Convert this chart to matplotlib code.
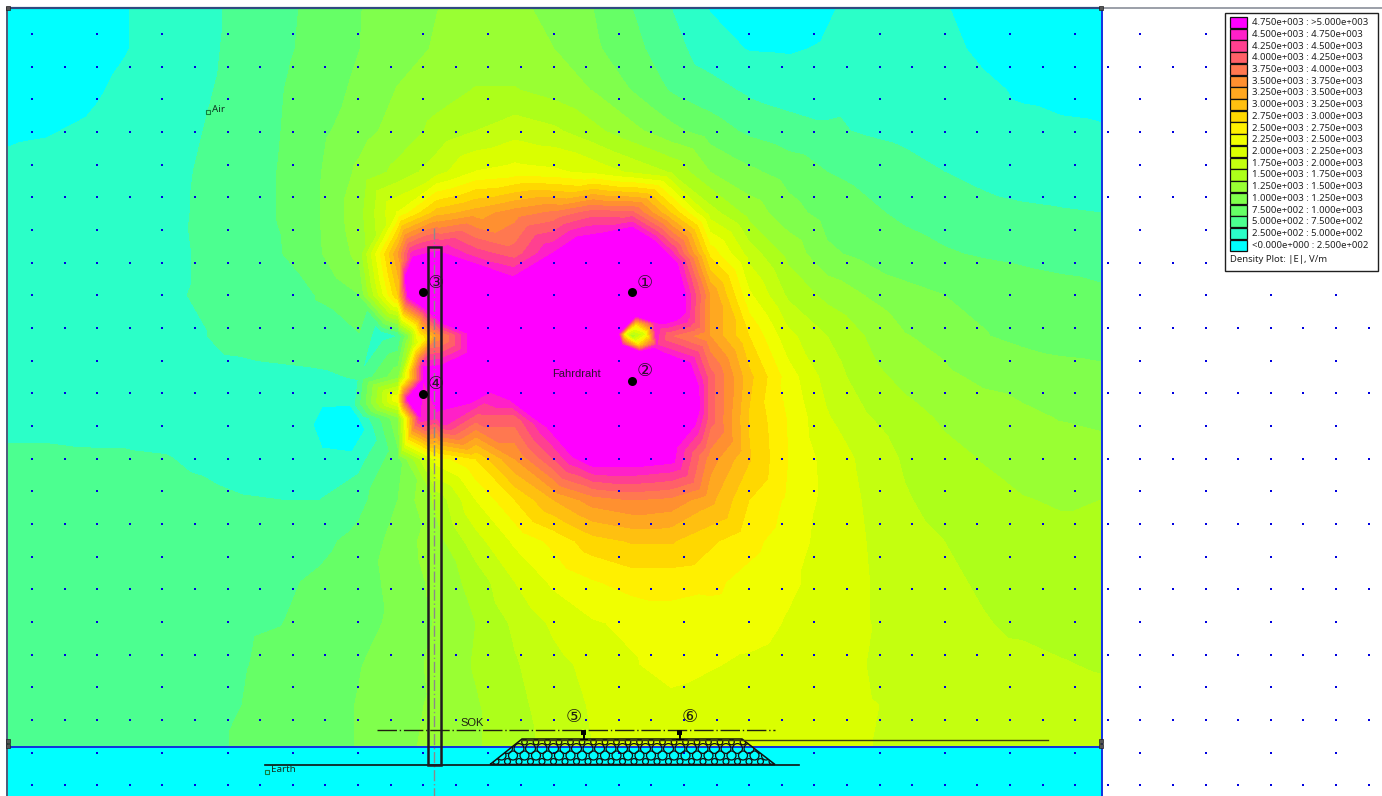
import numpy as np
import matplotlib

matplotlib.use("Agg")
import matplotlib.pyplot as plt
from matplotlib.path import Path
from matplotlib.patches import PathPatch, Rectangle

plt.rcParams["font.family"] = ["Noto Sans", "DejaVu Sans"]

W, H = 1382, 796

# |E|, in steps of 250 V/m, on a coarse grid of screen positions
grid_x = [8, 47, 86, 125, 164, 203, 242, 281, 320, 359, 398, 437, 476, 515, 554,
          593, 632, 671, 710, 749, 788, 827, 866, 905, 944, 983, 1022, 1061, 1101]
grid_y = [8, 49, 90, 131, 172, 213, 254, 295, 336, 377, 418, 459, 500, 541, 582, 623, 664, 705, 746]
field = [
    [.5, .5, .5, .95, 1.4, 1.8, 2.2, 2.75, 3.3, 3.95, 4.5, 4.98, 5.4, 5.3, 4.6, 4.0, 3.0, 2.0, .95, .5, .5, .9, 1.3, 1.3, 1.05, .7, .5, .4, .3],
    [.5, .5, .6, .95, 1.4, 1.8, 2.25, 2.8, 3.35, 3.98, 4.6, 5.1, 5.5, 5.5, 5.0, 4.2, 3.3, 2.4, 1.4, .95, .9, 1.1, 1.4, 1.4, 1.2, .85, .6, .5, .4],
    [.5, .6, .8, 1.2, 1.5, 1.85, 2.4, 2.95, 3.55, 4.2, 5.05, 5.6, 6.05, 6.05, 5.6, 4.95, 3.95, 2.9, 2.4, 1.8, 1.55, 1.55, 1.7, 1.7, 1.5, 1.15, .9, .75, .6],
    [.9, .95, 1.1, 1.45, 1.7, 2.0, 2.5, 3.0, 3.75, 4.6, 5.4, 6.3, 7.0, 7.6, 7.2, 6.3, 5.3, 4.3, 3.5, 2.8, 2.4, 2.15, 1.9, 1.7, 1.5, 1.3, 1.2, 1.15, 1.1],
    [1.15, 1.25, 1.35, 1.5, 1.7, 2.1, 2.6, 3.05, 3.95, 5.2, 6.3, 7.6, 9.05, 9.4, 9.2, 8.7, 7.8, 6.9, 5.0, 4.2, 3.6, 3.0, 2.7, 2.4, 2.0, 1.7, 1.45, 1.3, 1.25],
    [1.3, 1.35, 1.4, 1.5, 1.7, 2.15, 2.6, 3.05, 4.0, 5.6, 9.1, 12.5, 13.5, 14.5, 15.2, 16.5, 16.3, 12.0, 7.5, 5.6, 4.4, 3.6, 3.2, 2.8, 2.55, 2.35, 2.2, 2.1, 2.0],
    [1.35, 1.4, 1.45, 1.55, 1.75, 2.1, 2.65, 2.95, 3.9, 5.3, 14.0, 19.5, 17.5, 16.5, 19.0, 24, 24, 18.5, 10.7, 7.6, 5.7, 4.2, 3.7, 3.4, 3.1, 2.9, 2.75, 2.6, 2.5],
    [1.4, 1.45, 1.5, 1.6, 1.85, 2.1, 2.35, 2.65, 3.05, 3.97, 12.0, 24, 24, 24, 24, 24, 24, 22, 14, 9.2, 6.8, 5.7, 4.95, 4.3, 4.0, 3.8, 3.6, 3.4, 3.2],
    [1.3, 1.35, 1.4, 1.45, 1.6, 1.95, 2.4, 2.6, 2.75, 2.9, 2.0, 14, 20.5, 24, 24, 24, 6, 16, 14, 11, 8.3, 7.0, 5.95, 5.05, 4.7, 4.05, 3.75, 3.5, 3.3],
    [1.35, 1.35, 1.4, 1.4, 1.45, 1.5, 1.6, 1.7, 1.8, 2.1, 4.7, 24, 24, 24, 24, 24, 24, 23, 16.5, 12.3, 9.5, 7.6, 6.4, 5.7, 5.2, 4.8, 4.65, 4.5, 4.4],
    [1.75, 1.75, 1.75, 1.7, 1.6, 1.5, 1.45, 1.35, .95, .97, 4.8, 18, 16.5, 16.5, 22, 24, 24, 23, 16.5, 11.9, 9.9, 8.1, 7.1, 6.4, 5.85, 5.5, 5.2, 4.95, 4.8],
    [2.15, 2.15, 2.1, 2.1, 2.05, 1.85, 1.65, 1.4, 1.05, 1.6, 3.7, 9.5, 11, 14, 17, 20, 21, 19.5, 14.5, 12.1, 10, 8.6, 7.75, 6.85, 6.3, 5.95, 5.6, 5.5, 5.4],
    [2.45, 2.45, 2.45, 2.4, 2.3, 2.2, 2.05, 2.0, 2.0, 2.7, 4.0, 6.3, 9, 11, 13, 14.5, 15, 14.7, 13.3, 11, 9.8, 8.7, 7.9, 7.1, 6.6, 6.3, 6.05, 5.9, 6.0],
    [2.65, 2.65, 2.65, 2.65, 2.6, 2.6, 2.55, 2.65, 2.75, 3.3, 4.4, 5.6, 7.6, 9.2, 10.3, 11.6, 12.1, 12.1, 11.2, 10.3, 9.5, 8.6, 8.0, 7.4, 7.0, 6.65, 6.4, 6.25, 6.25],
    [2.7, 2.7, 2.7, 2.75, 2.75, 2.75, 2.8, 2.85, 3.15, 3.6, 4.3, 5.3, 6.4, 8, 9.2, 9.9, 10.4, 10.4, 10.2, 9.7, 9.2, 8.6, 8.05, 7.5, 7.15, 6.9, 6.65, 6.5, 6.4],
    [2.75, 2.75, 2.75, 2.8, 2.85, 2.85, 2.9, 2.98, 3.3, 3.7, 4.2, 5.1, 6.0, 7.2, 8.2, 8.9, 9.2, 9.5, 9.6, 9.5, 8.9, 8.5, 8.05, 7.65, 7.3, 7.05, 6.85, 6.7, 6.6],
    [2.8, 2.8, 2.8, 2.85, 2.85, 2.9, 2.95, 3.2, 3.4, 3.95, 4.4, 5.3, 6.1, 6.9, 7.7, 8.3, 8.9, 9.4, 9.1, 8.8, 8.5, 8.2, 8.0, 7.7, 7.4, 7.25, 7.2, 7.05, 6.9],
    [2.85, 2.85, 2.85, 2.85, 2.9, 2.9, 3.0, 3.3, 3.6, 4.05, 4.6, 5.2, 5.9, 6.7, 7.5, 8.1, 8.4, 8.7, 8.5, 8.4, 8.3, 8.2, 8.05, 7.9, 7.7, 7.6, 7.5, 7.4, 7.3],
    [2.9, 2.9, 2.9, 2.9, 2.9, 2.9, 3.05, 3.3, 3.6, 4.05, 4.7, 5.3, 5.9, 6.5, 7.4, 8.0, 8.2, 8.4, 8.3, 8.25, 8.2, 8.1, 8.02, 7.9, 7.8, 7.7, 7.6, 7.55, 7.5],
]

# extra readings where the field changes faster than the grid can show
extra_x = [618, 636, 655, 657, 640, 622, 625, 645, 636, 638, 610, 640, 640, 660, 685, 700,
           405, 413, 400, 408, 427, 442, 467, 468, 442, 423, 423, 407, 420, 398, 412,
           442, 473, 513, 553, 577, 603, 653, 677, 685, 690, 698, 700, 695, 677, 633, 603,
           573, 547, 530, 510, 490, 470, 442, 380, 408, 418,
           313, 322, 350, 365, 352, 322, 338]
extra_y = [334, 316, 322, 345, 352, 345, 334, 334, 324, 345, 334, 305, 365, 320, 320, 336,
           277, 257, 262, 297, 310, 323, 333, 353, 365, 367, 380, 399, 417, 399, 345,
           253, 263, 277, 253, 237, 233, 240, 263, 313, 363, 385, 407, 425, 447, 467, 467,
           457, 427, 415, 400, 392, 403, 420, 333, 336, 336,
           425, 407, 405, 430, 452, 448, 428]
extra_v = [19, 19, 19, 18, 19, 19, 9, 8.5, 11, 11, 24, 24, 24, 20, 18.5, 14.5,
           19, 19, 14, 19, 19, 19, 19, 19, 19, 19, 19, 19, 19, 10, 7,
           19, 19, 19, 19, 19, 19, 19, 19, 19, 19, 19, 19, 19, 19, 19, 19,
           19, 19, 19, 19, 19, 19, 19, 1.4, 4.5, 9.5,
           1.0, 1.0, 1.0, 1.0, 1.0, 1.0, .6]

level_labels = ["4.750e+003 : >5.000e+003", "4.500e+003 : 4.750e+003", "4.250e+003 : 4.500e+003",
                "4.000e+003 : 4.250e+003", "3.750e+003 : 4.000e+003", "3.500e+003 : 3.750e+003",
                "3.250e+003 : 3.500e+003", "3.000e+003 : 3.250e+003", "2.750e+003 : 3.000e+003",
                "2.500e+003 : 2.750e+003", "2.250e+003 : 2.500e+003", "2.000e+003 : 2.250e+003",
                "1.750e+003 : 2.000e+003", "1.500e+003 : 1.750e+003", "1.250e+003 : 1.500e+003",
                "1.000e+003 : 1.250e+003", "7.500e+002 : 1.000e+003", "5.000e+002 : 7.500e+002",
                "2.500e+002 : 5.000e+002", "<0.000e+000 : 2.500e+002"]
level_colors = ["#00FFFF", "#2BFFC8", "#4CFF90", "#66FF66", "#80FF4C", "#99FF33", "#ADFF1A",
                "#C4FF0F", "#DAFF00", "#F0FF00", "#FFF000", "#FFD800", "#FFC010", "#FFA820",
                "#FF9030", "#FF7850", "#FF6068", "#FF4090", "#FF20C8", "#FF00FF"]

wires = {"①": (632, 292), "②": (632, 381), "③": (423, 292), "④": (423, 394)}
wire_labels = {"①": (645, 283), "②": (645, 371), "③": (436, 283), "④": (436, 384)}
rails = {"⑤": 584, "⑥": 680}
rail_labels = {"⑤": (574, 717), "⑥": (690, 717)}


def draw_field(ax):
    gx, gy = np.meshgrid(grid_x, grid_y)
    xs = np.concatenate([gx.ravel(), extra_x])
    ys = np.concatenate([gy.ravel(), extra_y])
    vals = np.concatenate([np.array(field).ravel(), extra_v]) * 250
    levels = [250 * i for i in range(20)] + [1e6]
    levels[0] = -1
    ax.tricontourf(xs, ys, vals, levels=levels, colors=level_colors, zorder=1)
    ax.add_patch(Rectangle((8, 746), 1094, 50, color="#00FFFF", lw=0, zorder=2))


def draw_grid_dots(ax):
    xs, ys = [], []
    for j in range(24):
        for i in range(42):
            if j % 2 == 1 or i % 2 == 0:
                xs.append(32 + 32.6 * i)
                ys.append(34 + 32.67 * j)
    ax.scatter(xs, ys, s=0.7, marker="s", c="#0000E0", linewidths=0, zorder=3)


def draw_frame(ax):
    ax.plot([8, W], [8, 8], color="#8A8F99", lw=1.2, zorder=5)
    ax.plot([8, 1102], [8, 8], color="#2F4A80", lw=1.6, zorder=6)
    ax.plot([7, 7], [8, H], color="#4A5A78", lw=1.4, zorder=6)
    ax.plot([1102, 1102], [8, H], color="#1030E0", lw=1.4, zorder=6)
    ax.plot([8, 1102], [746.5, 746.5], color="#1030E0", lw=1.4, zorder=6)
    ax.scatter([8, 8, 1101, 1101, 8, 1101], [741, 746, 741, 746, 8, 8], s=7, marker="s",
               facecolors="#555555", edgecolors="#222222", linewidths=0.5, zorder=7)


def draw_ballast(ax):
    verts = [(490, 764.5), (522, 739), (742, 739), (775, 764.5), (490, 764.5)]
    outline = PathPatch(Path(verts), facecolor="none", edgecolor="#101010", lw=1.1, zorder=8)
    ax.add_patch(outline)
    for j, (y, size) in enumerate([(742, 16), (748.5, 50), (755.5, 42), (761.5, 18)]):
        xs = np.arange(490 + 6 * (j % 2), 780, 11.5)
        stones = ax.scatter(xs, [y] * len(xs), s=size, facecolors="none", edgecolors="#101010",
                            linewidths=0.9, zorder=8)
        stones.set_clip_path(outline)


def draw_track(ax):
    ax.plot([377, 775], [730, 730], color="#202010", lw=1, dashes=(14, 2, 1, 2), zorder=9)
    ax.plot([522, 1048], [739.5, 739.5], color="#404010", lw=1, zorder=9)
    ax.plot([265, 799], [764.5, 764.5], color="#101010", lw=1.2, zorder=9)
    for name, x in rails.items():
        ax.add_patch(Rectangle((x - 2.5, 730), 5, 5, color="black", lw=0, zorder=10))
        ax.add_patch(Rectangle((x - 1, 735), 2, 4, color="black", lw=0, zorder=10))
        ax.add_patch(Rectangle((x - 4, 738.5), 8, 1.5, color="black", lw=0, zorder=10))
        tx, ty = rail_labels[name]
        ax.text(tx, ty, name, fontsize=13, ha="center", va="center", color="#202010", zorder=11,
                family=["DejaVu Sans"])


def draw_pole(ax):
    ax.plot([434.5, 434.5], [228, H], color="#8A8A8A", lw=1, dashes=(8, 2, 1, 2), zorder=8)
    ax.add_patch(Rectangle((428, 247), 13, 518, facecolor="none", edgecolor="#201A20", lw=1.8, zorder=9))


def draw_wires(ax):
    for name, (x, y) in wires.items():
        ax.scatter([x], [y], s=42, c="black", linewidths=0, zorder=10)
        tx, ty = wire_labels[name]
        ax.text(tx, ty, name, fontsize=13, ha="center", va="center", color="#301030", zorder=11,
                family=["DejaVu Sans"])


def draw_labels(ax):
    arial = ["Liberation Sans"]
    ax.text(552, 374, "Fahrdraht", fontsize=8, va="center", color="#301030", family=arial, zorder=11)
    ax.text(460, 723, "SOK", fontsize=8, va="center", color="#202010", family=arial, zorder=11)
    ax.text(212, 109, "Air", fontsize=7, va="center", color="#103020", zorder=11)
    ax.text(271, 770, "Earth", fontsize=7, va="center", color="#103020", zorder=11)
    ax.scatter([208, 267], [112, 772], s=9, marker="s", facecolors="none", edgecolors="#108040",
               linewidths=0.8, zorder=11)


def draw_legend(ax):
    ax.add_patch(Rectangle((1225.5, 12.5), 153, 258, facecolor="white", edgecolor="#202020", lw=1, zorder=12))
    for i, label in enumerate(level_labels):
        y = 17 + 11.72 * i
        ax.add_patch(Rectangle((1230, y), 17, 11.2, facecolor=level_colors[19 - i], edgecolor="#101010",
                               lw=0.9, zorder=13))
        ax.text(1252, y + 5.6, label, fontsize=6.85, va="center", color="#202020", zorder=13)
    ax.text(1230, 260, "Density Plot: |E|, V/m", fontsize=6.85, va="center", color="#202020", zorder=13)


fig = plt.figure(figsize=(W / 100, H / 100), dpi=100)
ax = fig.add_axes([0, 0, 1, 1])
draw_field(ax)
draw_grid_dots(ax)
draw_ballast(ax)
draw_track(ax)
draw_pole(ax)
draw_wires(ax)
draw_labels(ax)
draw_frame(ax)
draw_legend(ax)
ax.set_xlim(0, W)
ax.set_ylim(H, 0)
ax.axis("off")
fig.savefig("out.png", dpi=100)
